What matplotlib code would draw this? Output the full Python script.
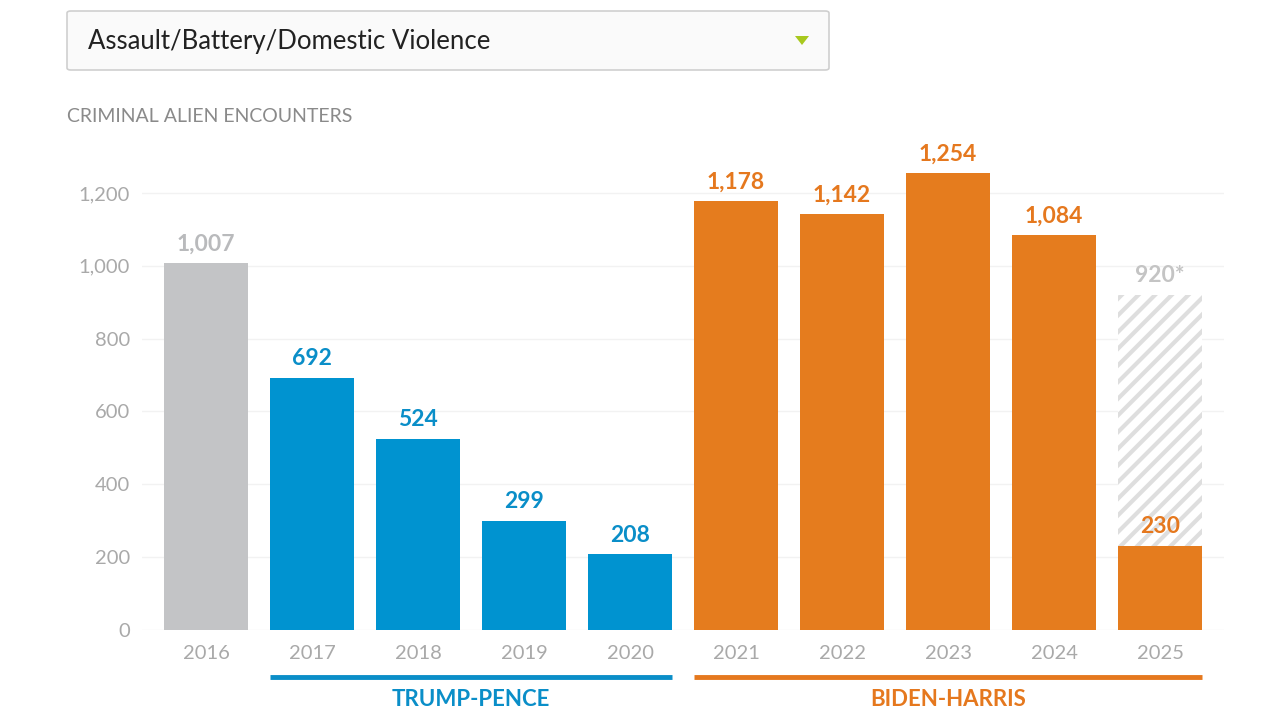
import matplotlib
matplotlib.use("Agg")
import matplotlib.pyplot as plt
from matplotlib.patches import FancyBboxPatch, Polygon

plt.rcParams['font.family'] = ['Lato', 'DejaVu Sans']
plt.rcParams['hatch.linewidth'] = 3.0

years = ['2016', '2017', '2018', '2019', '2020', '2021', '2022', '2023', '2024', '2025']
values = [1007, 692, 524, 299, 208, 1178, 1142, 1254, 1084, 230]
projected_2025 = 920
bar_colors = ['#c3c4c6', '#0093d0', '#0093d0', '#0093d0', '#0093d0',
              '#e57c1e', '#e57c1e', '#e57c1e', '#e57c1e', '#e57c1e']
label_colors = ['#b9babc', '#0a8ec8', '#0a8ec8', '#0a8ec8', '#0a8ec8',
                '#e5781e', '#e5781e', '#e5781e', '#e5781e', '#e5781e']
yticks = [0, 200, 400, 600, 800, 1000, 1200]
admins = [('TRUMP-PENCE', 1, 4, '#0a8ec8'), ('BIDEN-HARRIS', 5, 9, '#e5781e')]

W, H = 1280, 720
fig = plt.figure(figsize=(12.8, 7.2), dpi=100)
fig.patch.set_facecolor('white')

ax_left = 142.4 / W
ax_right = 1223.6 / W
ax_bottom = (H - 630) / H
ax_top = (H - 150) / H
ax = fig.add_axes([ax_left, ax_bottom, ax_right - ax_left, ax_top - ax_bottom])
ax.set_xlim(-0.6, 9.6)
ax.set_ylim(0, 1318)

x = list(range(len(years)))
# projected hatched bar for 2025
ax.bar(9, projected_2025, width=0.79, color='white', edgecolor='#dedede',
       hatch='//', linewidth=0, zorder=1)
ax.bar(x, values, width=0.79, color=bar_colors, zorder=2)

for i, v in enumerate(values):
    ax.text(i, v + 24, f"{v:,}", ha='center', va='bottom', fontsize=16.5,
            fontweight='bold', color=label_colors[i], zorder=3)
ax.text(9, projected_2025 + 24, f"{projected_2025:,}*", ha='center', va='bottom',
        fontsize=16.5, fontweight='bold', color='#c4c4c4', zorder=3)

ax.set_yticks(yticks)
ax.set_yticklabels([f"{t:,}" for t in yticks], fontsize=14.5, color='#a9a9a9')
ax.set_xticks(x)
ax.set_xticklabels(years, fontsize=14.5, color='#a9a9a9')
ax.tick_params(axis='both', length=0)
ax.tick_params(axis='y', pad=9)
ax.tick_params(axis='x', pad=11)
for s in ax.spines.values():
    s.set_visible(False)
ax.grid(axis='y', color='#f2f2f2', linewidth=1)
ax.set_axisbelow(True)

# administration brackets
for name, a, b, col in admins:
    ax.plot([a - 0.395, b + 0.395], [-129, -129], color=col, linewidth=3.5,
            solid_capstyle='butt', clip_on=False)
    ax.text((a + b) / 2, -190, name, ha='center', va='center', fontsize=16,
            fontweight='bold', color=col, clip_on=False)

# dropdown header
box = FancyBboxPatch((67 / W, (H - 70) / H), (829 - 67) / W, 59 / H,
                     boxstyle='round,pad=0,rounding_size=0.003',
                     transform=fig.transFigure, facecolor='#fafafa',
                     edgecolor='#cfcfcf', linewidth=1.2)
fig.patches.append(box)
fig.text(88 / W, (H - 42) / H, 'Assault/Battery/Domestic Violence',
         fontsize=18.5, color='#222222', va='center', ha='left')
tri = Polygon([(795 / W, (H - 36) / H), (809 / W, (H - 36) / H), (802 / W, (H - 45) / H)],
              closed=True, transform=fig.transFigure, facecolor='#a8c81e', edgecolor='none')
fig.patches.append(tri)

fig.text(67 / W, (H - 116) / H, 'CRIMINAL ALIEN ENCOUNTERS', fontsize=14,
         color='#8a8a8a', va='center', ha='left')

fig.savefig('out.png', dpi=100, facecolor='white')
